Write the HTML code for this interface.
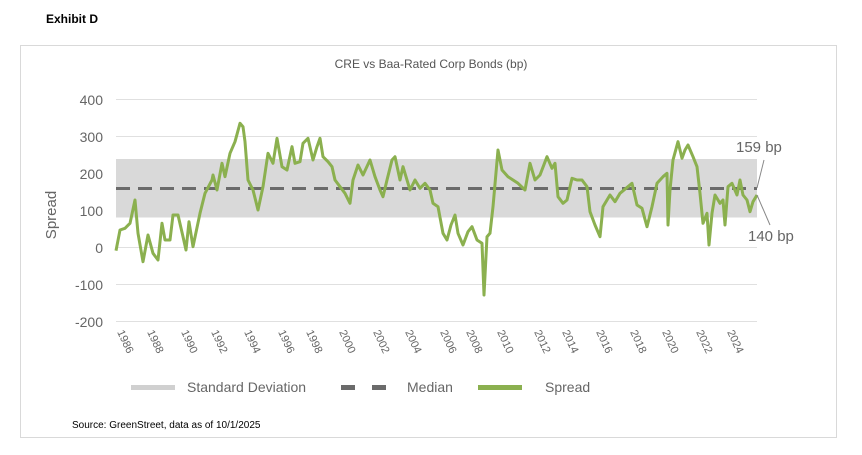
<!DOCTYPE html>
<html><head><meta charset="utf-8"><style>
html,body{margin:0;padding:0;background:#fff;width:862px;height:455px;overflow:hidden}
svg{display:block;font-family:"Liberation Sans",sans-serif}
</style></head><body>
<svg width="862" height="455" viewBox="0 0 862 455">
<text x="46" y="23" font-size="12" font-weight="bold" fill="#000">Exhibit D</text>
<rect x="20.5" y="45.5" width="816" height="392" fill="#fff" stroke="#d9d9d9"/>
<text x="431" y="68" font-size="12" fill="#555" text-anchor="middle">CRE vs Baa-Rated Corp Bonds (bp)</text>
<g stroke="#e0e0e0" stroke-width="1">
<line x1="116" y1="99.5" x2="757" y2="99.5"/>
<line x1="116" y1="136.5" x2="757" y2="136.5"/>
<line x1="116" y1="173.5" x2="757" y2="173.5"/>
<line x1="116" y1="210.5" x2="757" y2="210.5"/>
<line x1="116" y1="247.5" x2="757" y2="247.5"/>
<line x1="116" y1="284.5" x2="757" y2="284.5"/>
<line x1="116" y1="321.5" x2="757" y2="321.5"/>
</g>
<rect x="116" y="159" width="641" height="58.5" fill="#d9d9d9"/>
<line x1="116" y1="188.5" x2="757" y2="188.5" stroke="#6b6b6b" stroke-width="3" stroke-dasharray="14,8"/>
<g font-size="14" fill="#666" text-anchor="end">
<text x="103" y="105">400</text><text x="103" y="142">300</text><text x="103" y="179">200</text>
<text x="103" y="216">100</text><text x="103" y="253">0</text><text x="103" y="290">-100</text><text x="103" y="327">-200</text>
</g>
<text transform="translate(56,215) rotate(-90)" font-size="15" fill="#666" text-anchor="middle">Spread</text>
<g font-size="11" fill="#666">
<text transform="translate(117,332) rotate(65)">1986</text>
<text transform="translate(147,332) rotate(65)">1988</text>
<text transform="translate(181,332) rotate(65)">1990</text>
<text transform="translate(211,332) rotate(65)">1992</text>
<text transform="translate(244,332) rotate(65)">1994</text>
<text transform="translate(278,332) rotate(65)">1996</text>
<text transform="translate(306,332) rotate(65)">1998</text>
<text transform="translate(339,332) rotate(65)">2000</text>
<text transform="translate(373,332) rotate(65)">2002</text>
<text transform="translate(405,332) rotate(65)">2004</text>
<text transform="translate(440,332) rotate(65)">2006</text>
<text transform="translate(466,332) rotate(65)">2008</text>
<text transform="translate(497,332) rotate(65)">2010</text>
<text transform="translate(534,332) rotate(65)">2012</text>
<text transform="translate(562,332) rotate(65)">2014</text>
<text transform="translate(596,332) rotate(65)">2016</text>
<text transform="translate(630,332) rotate(65)">2018</text>
<text transform="translate(662,332) rotate(65)">2020</text>
<text transform="translate(696,332) rotate(65)">2022</text>
<text transform="translate(727,332) rotate(65)">2024</text>
</g>
<polyline fill="none" stroke="#8bb04f" stroke-width="3" stroke-linejoin="round" points="
116,250.7 120,230 125,228.3 130,223.3 135,200 138,233.3 143,261.7 148,235 153,253.3 158,260 162,223.3 165,240 170,240 173,215 178,215 183,236.7 186,250 189,221.7 193,246.7 200,213.3 205,193.3 212,180 213,175 217,190 222,163.3 225,176.7 230,153.3 235,141.7 240,123.3 243,126.7 245,141.7 248,180 253,190 258,210 263,186.7 268,153.3 273,163.3 277,138.3 282,166.7 287,170 292,146.7 295,163.3 300,161.7 303,143.3 308,138.3 313,160 317,146.7 320,138.3 323,156.7 328,161.7 332,166.7 335,180 340,186.7 345,193.3 350,203.3 353,180 358,165 363,175 370,160 375,176.7 380,190 383,196.7 387,180 392,160 395,156.7 400,180 403,166.7 410,190 415,180 420,188.3 425,183.3 430,190 433,203.3 438,206.7 443,233.3 447,240 451,225 455,215 458,233.3 463,245 468,231.7 472,226.7 477,240 482,243.3 484,295 487,236.7 490,233.3 493,206.7 498,150 502,170 508,176.7 513,180 518,183.3 525,190 530,163.3 535,180 540,175 547,156.7 552,168.3 555,163.3 558,196.7 563,203.3 567,200 572,178.3 577,180 582,180 587,186.7 590,211.7 595,225 600,236.7 603,206.7 610,195 615,201.7 620,193.3 632,183.3 637,205 642,208.3 647,226.7 652,206.7 657,183.3 663,176.7 667,173.3 668,225 670,190 673,160 678,141.7 682,158.3 685,150 688,145 693,156.7 697,166.7 700,193.3 703,223.3 707,213.3 709,245 712,213.3 715,195 720,203.3 723,200 725,225 728,186.7 732,183.3 737,195 740,180 743,195 747,200 750,211.7 753,201.7 757,195"/>
<line x1="757" y1="188" x2="764" y2="160" stroke="#888" stroke-width="1"/>
<line x1="757" y1="195" x2="770" y2="225" stroke="#888" stroke-width="1"/>
<text x="736" y="152" font-size="15" fill="#666">159 bp</text>
<text x="748" y="241" font-size="15" fill="#666">140 bp</text>
<line x1="131" y1="387.5" x2="175" y2="387.5" stroke="#d0d0d0" stroke-width="5"/>
<text x="187" y="392" font-size="14" fill="#666">Standard Deviation</text>
<line x1="341" y1="387.5" x2="355" y2="387.5" stroke="#6b6b6b" stroke-width="5"/>
<line x1="372" y1="387.5" x2="386" y2="387.5" stroke="#6b6b6b" stroke-width="5"/>
<text x="407" y="392" font-size="14" fill="#666">Median</text>
<line x1="478" y1="387.5" x2="522" y2="387.5" stroke="#8bb04f" stroke-width="5"/>
<text x="545" y="392" font-size="14" fill="#666">Spread</text>
<text x="72" y="428" font-size="10" fill="#000">Source: GreenStreet, data as of 10/1/2025</text>
</svg>
</body></html>
